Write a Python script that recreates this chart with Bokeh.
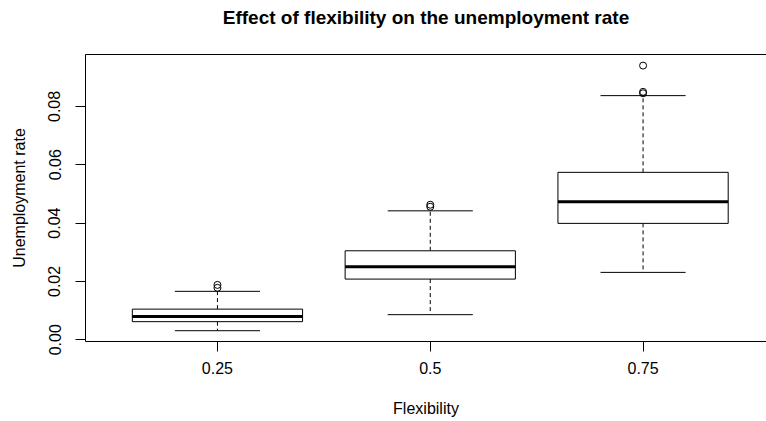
from bokeh.plotting import figure
from bokeh.models import (Range1d, FixedTicker, LinearAxis, ColumnDataSource,
                          NumeralTickFormatter)
from bokeh.embed import file_html
from bokeh.resources import INLINE

# ---- data ----
categories = ["0.25", "0.5", "0.75"]
whisker_low = [0.0031, 0.0086, 0.0231]
q1 = [0.0062, 0.0208, 0.0399]
median = [0.0080, 0.0250, 0.0473]
q3 = [0.0105, 0.0305, 0.0574]
whisker_high = [0.0166, 0.0442, 0.0837]
outlier_group = ["0.25", "0.25", "0.5", "0.5", "0.75", "0.75", "0.75"]
outlier_value = [0.0178, 0.0188, 0.0456, 0.0463, 0.0845, 0.0850, 0.0940]
y_ticks = [0.00, 0.02, 0.04, 0.06, 0.08]

TITLE = "Effect of flexibility on the unemployment rate"
X_LABEL = "Flexibility"
Y_LABEL = "Unemployment rate"

FONT = "Liberation Sans"
BOX_W = 0.8
CAP_W = 0.4

pos = [i + 1 for i in range(len(categories))]
pos_of = {c: p for c, p in zip(categories, pos)}

box_src = ColumnDataSource(dict(
    x=pos,
    left=[p - BOX_W / 2 for p in pos],
    right=[p + BOX_W / 2 for p in pos],
    cap_l=[p - CAP_W / 2 for p in pos],
    cap_r=[p + CAP_W / 2 for p in pos],
    lo=whisker_low, q1=q1, med=median, q3=q3, hi=whisker_high,
))
out_src = ColumnDataSource(dict(
    x=[pos_of[g] for g in outlier_group],
    y=outlier_value,
))

p = figure(width=766, height=421, output_backend="svg", toolbar_location=None,
           x_range=Range1d(0.38, 3.58), y_range=Range1d(-0.0006, 0.0978),
           min_border_left=85, min_border_right=0, min_border_top=54,
           min_border_bottom=80, background_fill_color="white",
           border_fill_color="white", outline_line_color=None)

p.xgrid.visible = False
p.ygrid.visible = False

# title
p.title.text = TITLE
p.title.align = "center"
p.title.text_font = FONT
p.title.text_font_size = "19px"
p.title.text_font_style = "bold"
p.title.text_color = "black"
p.title.standoff = 9

# x axis
xa = p.xaxis[0]
xa.ticker = FixedTicker(ticks=pos)
xa.major_label_overrides = {p_: c for p_, c in zip(pos, categories)}
xa.minor_tick_line_color = None
xa.major_tick_in = 0
xa.major_tick_out = 10
xa.major_label_standoff = 10
xa.axis_label = X_LABEL
xa.axis_label_standoff = 23

# y axis
ya = p.yaxis[0]
ya.ticker = FixedTicker(ticks=y_ticks)
ya.formatter = NumeralTickFormatter(format="0.00")
ya.minor_tick_line_color = None
ya.major_tick_in = 0
ya.major_tick_out = 10
ya.major_label_standoff = 15
ya.major_label_orientation = "vertical"
ya.axis_label = Y_LABEL
ya.axis_label_standoff = 18

for ax in [xa, ya]:
    ax.major_label_text_font = FONT
    ax.major_label_text_font_size = "16px"
    ax.major_label_text_color = "black"
    ax.axis_label_text_font = FONT
    ax.axis_label_text_font_size = "16px"
    ax.axis_label_text_font_style = "normal"
    ax.axis_label_text_color = "black"
    ax.axis_line_color = "black"
    ax.major_tick_line_color = "black"

# top border line; an invisible tick reserves the gap below the title
top = LinearAxis(ticker=FixedTicker(ticks=[2]), major_label_overrides={2: ""},
                 major_label_text_font_size="0px", major_label_standoff=0,
                 major_label_text_alpha=0,
                 major_tick_line_alpha=0, minor_tick_line_color=None,
                 major_tick_in=0, major_tick_out=22,
                 axis_line_color="black")
p.add_layout(top, "above")

# whiskers (dashed)
p.segment(x0="x", y0="q3", x1="x", y1="hi", source=box_src,
          line_color="black", line_width=1, line_dash="4 3")
p.segment(x0="x", y0="q1", x1="x", y1="lo", source=box_src,
          line_color="black", line_width=1, line_dash="4 3")
# caps
p.segment(x0="cap_l", y0="hi", x1="cap_r", y1="hi", source=box_src,
          line_color="black", line_width=1)
p.segment(x0="cap_l", y0="lo", x1="cap_r", y1="lo", source=box_src,
          line_color="black", line_width=1)
# boxes
p.quad(left="left", right="right", bottom="q1", top="q3", source=box_src,
       fill_color="white", line_color="black", line_width=1)
# medians
p.segment(x0="left", y0="med", x1="right", y1="med", source=box_src,
          line_color="black", line_width=3)
# outliers
p.scatter(x="x", y="y", source=out_src, marker="circle", size=7,
          fill_color=None, line_color="black", line_width=1)

open("out.html", "w").write(file_html(p, INLINE))
